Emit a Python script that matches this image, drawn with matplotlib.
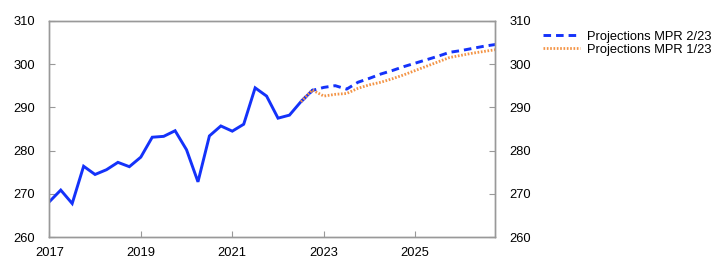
import numpy as np
import matplotlib
matplotlib.use("Agg")
import matplotlib.pyplot as plt

plt.rcParams['font.family'] = ['Liberation Sans', 'DejaVu Sans']

# Quarterly data, 2017Q1 .. 2022Q4 (actual)
hist_start = 2017.0
hist_values = [268.2, 270.9, 267.8, 276.4,
               274.5, 275.6, 277.3, 276.3,
               278.5, 283.1, 283.3, 284.6,
               280.2, 272.8, 283.4, 285.7,
               284.5, 286.1, 294.5, 292.6,
               287.5, 288.2, 291.3, 293.9]

# Projections from 2022Q3 .. 2026Q4
proj_start = 2022.5
proj_mpr223 = [291.3, 293.9,
               294.6, 295.0, 294.2, 295.8,
               296.7, 297.7, 298.5, 299.4,
               300.2, 301.0, 301.8, 302.7,
               303.1, 303.6, 304.1, 304.5]
proj_mpr123 = [291.3, 294.0,
               292.6, 293.0, 293.2, 294.4,
               295.2, 295.8, 296.6, 297.5,
               298.5, 299.5, 300.5, 301.5,
               302.0, 302.5, 302.9, 303.3]

legend_labels = ["Projections MPR 2/23", "Projections MPR 1/23"]
x_ticks = [2017, 2019, 2021, 2023, 2025]
y_ticks = [260, 270, 280, 290, 300, 310]

blue = '#1432FA'
orange = '#F39446'
spine_col = '#999999'
fs = 9.3

t_hist = hist_start + np.arange(len(hist_values)) / 4
t_proj = proj_start + np.arange(len(proj_mpr223)) / 4

fig = plt.figure(figsize=(7.22, 2.72), dpi=100)
ax = fig.add_axes([0.0683, 0.1276, 0.6177, 0.7963])

ax.plot(t_hist, hist_values, color=blue, lw=2.1, solid_joinstyle='miter')
l1, = ax.plot(t_proj, proj_mpr223, color=blue, lw=2.1, linestyle=(0, (2.6, 1.7)))
l2, = ax.plot(t_proj, proj_mpr123, color=orange, lw=2.0, linestyle=(0, (0.6, 0.6)))

ax.set_xlim(2017, 2026.75)
ax.set_ylim(260, 310)
ax.set_xticks(x_ticks)
ax.set_xticklabels([str(x) for x in x_ticks])
ax.set_yticks(y_ticks)

ax2 = ax.twinx()
ax2.set_ylim(260, 310)
ax2.set_yticks(y_ticks)

for a in (ax, ax2):
    for s in a.spines.values():
        s.set_color(spine_col)
        s.set_linewidth(1.0)
ax.tick_params(axis='both', direction='in', length=4, color=spine_col, labelsize=fs, pad=10)
ax.tick_params(axis='x', pad=7)
ax2.tick_params(axis='y', direction='in', length=4, color=spine_col, labelsize=fs, pad=10)

fig.legend([l1, l2], legend_labels, loc='upper left', bbox_to_anchor=(0.752, 0.888),
           frameon=False, fontsize=fs, handlelength=2.9, handletextpad=0.5,
           labelspacing=0.08, borderaxespad=0, borderpad=0)

fig.savefig('out.png', dpi=100)
